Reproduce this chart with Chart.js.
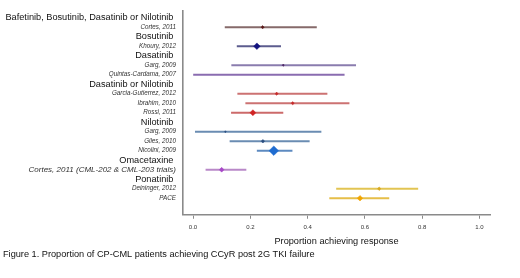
<!DOCTYPE html>
<html>
<head>
<meta charset="utf-8">
<script src="https://cdn.jsdelivr.net/npm/chart.js@4.4.1/dist/chart.umd.min.js"></script>
<style>
  html, body { margin: 0; padding: 0; background: #fff; }
  #wrap { position: relative; width: 520px; height: 278px; }
</style>
</head>
<body>
<div id="wrap"><canvas id="forest"></canvas></div>
<script>
// rows of the forest plot, top to bottom
var rowLabels = [
    'Bafetinib, Bosutinib, Dasatinib or Nilotinib ',
    'Cortes, 2011',
    'Bosutinib ',
    'Khoury, 2012',
    'Dasatinib ',
    'Garg, 2009',
    'Quintas-Cardama, 2007',
    'Dasatinib or Nilotinib ',
    'Garcia-Gutierrez, 2012',
    'Ibrahim, 2010',
    'Rossi, 2011',
    'Nilotinib ',
    'Garg, 2009',
    'Giles, 2010',
    'Nicolini, 2009',
    'Omacetaxine ',
    'Cortes, 2011 (CML-202 & CML-203 trials)',
    'Ponatinib ',
    'Deininger, 2012',
    'PACE'
];
var rowKind = ['group', 'study', 'group', 'study', 'group', 'study', 'study', 'group', 'study', 'study',
               'study', 'group', 'study', 'study', 'study', 'group', 'study', 'group', 'study', 'study'];

// proportion achieving response, with 95% CI
var estimate = [null, 0.243, null, 0.223, null, 0.315, null, null, 0.292, 0.348,
                0.209, null, 0.113, 0.244, 0.282, null, 0.100, null, 0.650, 0.583];
var lower    = [null, 0.112, null, 0.154, null, 0.135, 0.000, null, 0.156, 0.184,
                0.134, null, 0.008, 0.129, 0.224, null, 0.045, null, 0.501, 0.477];
var upper    = [null, 0.431, null, 0.306, null, 0.568, 0.528, null, 0.468, 0.545,
                0.314, null, 0.447, 0.406, 0.346, null, 0.185, null, 0.785, 0.684];

var xTicks = [0, 0.2, 0.4, 0.6, 0.8, 1.0];

// styling
var lineColor = [null, '#866a6a', null, '#5c5c8e', null, '#8a7cae', '#8a6cb0', null, '#cc7272', '#cc7272',
                 '#cc6a6a', null, '#6a8cb2', '#6a8cb2', '#5d8ac0', null, '#b988c8', null, '#e2c452', '#e6be48'];
var dotColor  = [null, '#5a1818', null, '#12127e', null, '#4a2060', null, null, '#c62a2a', '#c62a2a',
                 '#d02424', null, '#2a4e80', '#2a4e80', '#1f6cd0', null, '#a848c8', null, '#d8a820', '#f2a400'];
var dotSize   = [0, 1.6, 0, 3.3, 0, 1.1, 0, 0, 1.6, 1.6, 3.0, 0, 1.0, 1.8, 4.8, 0, 2.4, 0, 1.8, 2.8];

var ciData = [];
var ciColors = [];
var estData = [];
var estColors = [];
var estSizes = [];
for (var i = 0; i < rowLabels.length; i++) {
    if (lower[i] !== null) {
        ciData.push({ y: i, x: [lower[i], upper[i]] });
        ciColors.push(lineColor[i]);
    }
    if (estimate[i] !== null) {
        estData.push({ x: estimate[i], y: i });
        estColors.push(dotColor[i]);
        estSizes.push(dotSize[i]);
    }
}

function labelFont(ctx) {
    var idx = ctx && ctx.index;
    if (idx === undefined || rowKind[idx] === 'group') {
        return { family: 'Liberation Sans', size: 9.2 };
    }
    return {
        family: 'Liberation Sans',
        size: rowLabels[idx].length > 30 ? 8 : 6.3,
        style: 'italic'
    };
}

var forest = new Chart(document.getElementById('forest'), {
    type: 'bar',
    data: {
        datasets: [
            {
                label: '95% CI',
                indexAxis: 'y',
                data: ciData,
                backgroundColor: ciColors,
                borderWidth: 0,
                barThickness: 1.2,
                grouped: false,
                order: 2
            },
            {
                type: 'scatter',
                label: 'Estimate',
                data: estData,
                pointStyle: 'rectRot',
                pointRadius: estSizes,
                pointBackgroundColor: estColors,
                pointBorderColor: estColors,
                pointBorderWidth: 0.5,
                order: 1
            }
        ]
    },
    options: {
        animation: false,
        responsive: true,
        maintainAspectRatio: false,
        layout: {
            padding: { left: 3, right: 30, top: 10, bottom: 18 }
        },
        plugins: {
            legend: { display: false },
            tooltip: { enabled: false },
            title: {
                display: true,
                position: 'bottom',
                align: 'start',
                text: 'Figure 1. Proportion of CP-CML patients achieving CCyR post 2G TKI failure',
                color: '#111',
                font: { family: 'Liberation Sans', size: 9.2, weight: 'normal' },
                padding: { top: 0, bottom: 0 }
            }
        },
        scales: {
            x: {
                type: 'linear',
                position: 'bottom',
                offset: false,
                min: -0.035,
                max: 1.037,
                afterBuildTicks: function(scale) {
                    scale.ticks = xTicks.map(function(v) { return { value: v }; });
                },
                afterFit: function(scale) {
                    scale.height = 34.2;
                },
                ticks: {
                    color: '#333',
                    padding: 5,
                    font: { family: 'Liberation Sans', size: 6 },
                    callback: function(value) {
                        return Number(value).toFixed(1);
                    }
                },
                grid: {
                    offset: false,
                    drawOnChartArea: false,
                    drawTicks: true,
                    tickLength: 4,
                    color: '#8a8a8a',
                    lineWidth: 1
                },
                border: { display: true, color: '#8a8a8a', width: 1.6 },
                title: {
                    display: true,
                    text: 'Proportion achieving response',
                    color: '#111',
                    font: { family: 'Liberation Sans', size: 9.2 },
                    padding: { top: 0, bottom: 1.5 }
                }
            },
            y: {
                type: 'linear',
                position: 'left',
                offset: false,
                reverse: true,
                min: -0.73,
                max: 20.74,
                afterBuildTicks: function(scale) {
                    scale.ticks = rowLabels.map(function(l, idx) { return { value: idx }; });
                },
                afterFit: function(scale) {
                    scale.width = 180;
                },
                ticks: {
                    padding: 7,
                    autoSkip: false,
                    callback: function(value) {
                        return rowLabels[value];
                    },
                    color: function(ctx) {
                        return rowKind[ctx.index] === 'group' ? '#111' : '#333';
                    },
                    font: labelFont
                },
                grid: { display: false, drawTicks: false, offset: false },
                border: { display: true, color: '#8a8a8a', width: 1.6 }
            }
        }
    }
});
</script>
</body>
</html>
